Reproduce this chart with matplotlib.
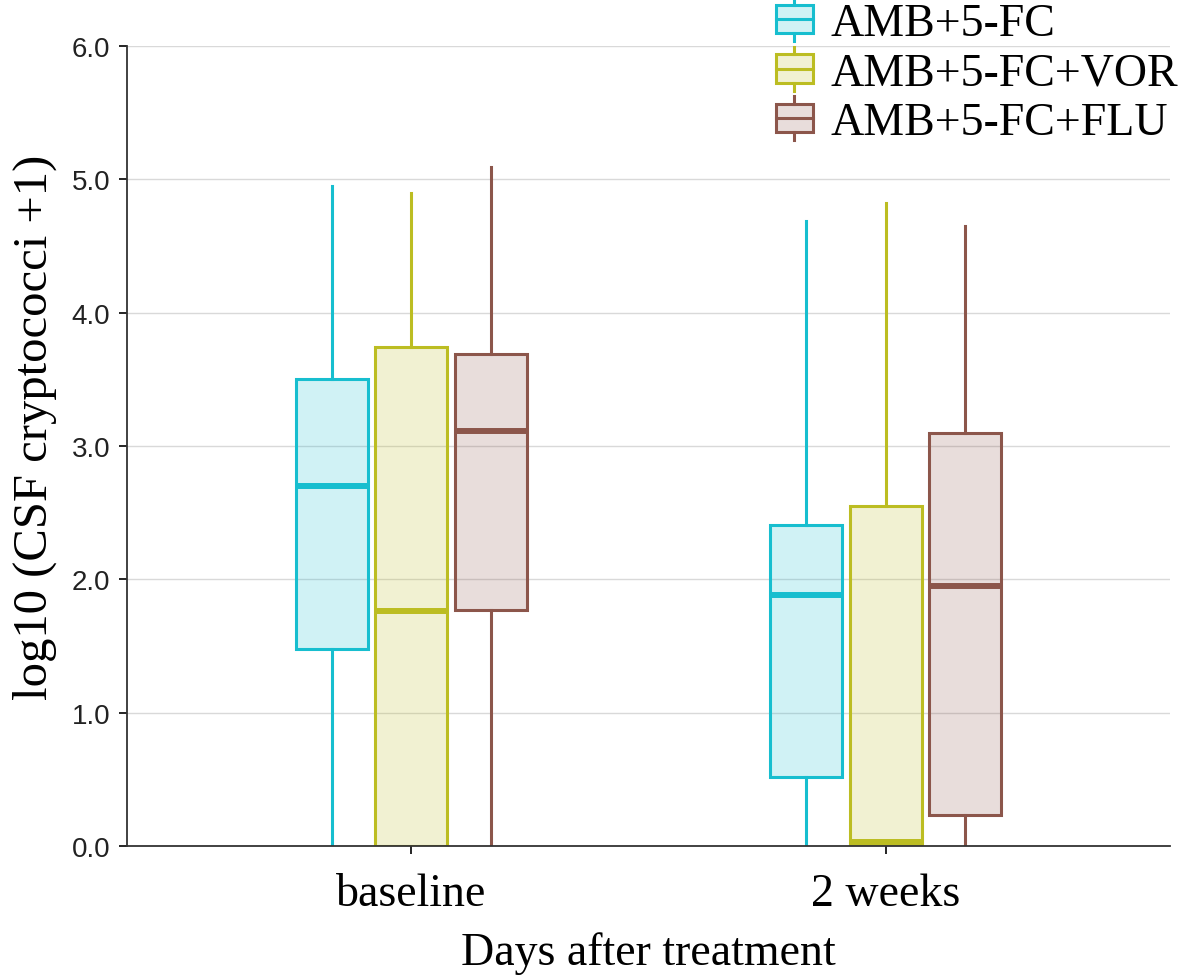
import matplotlib
matplotlib.use("Agg")
import matplotlib.pyplot as plt
import matplotlib.colors as mcolors
from matplotlib.legend_handler import HandlerBase
from matplotlib.patches import Rectangle
from matplotlib.lines import Line2D
import numpy as np

groups = ["baseline", "2 weeks"]
treatments = ["AMB+5-FC", "AMB+5-FC+VOR", "AMB+5-FC+FLU"]
colors = ["#17BECF", "#BCBD22", "#8C564B"]

# per treatment: values for [baseline, 2 weeks]
whislo = [[0.0, 0.0], [0.0, 0.0], [0.0, 0.0]]
q1 = [[1.48, 0.52], [0.0, 0.0], [1.77, 0.23]]
med = [[2.70, 1.88], [1.76, 0.03], [3.11, 1.95]]
q3 = [[3.50, 2.41], [3.74, 2.55], [3.69, 3.10]]
whishi = [[4.95, 4.69], [4.90, 4.82], [5.09, 4.65]]


class BoxHandler(HandlerBase):
    # small boxplot glyph for the legend
    def __init__(self, color):
        super().__init__()
        self.color = color

    def create_artists(self, legend, orig_handle, xdescent, ydescent,
                       width, height, fontsize, trans):
        x0 = -xdescent
        y0 = -ydescent
        c = self.color
        rect = Rectangle((x0, y0), width, height, facecolor=mcolors.to_rgba(c, 0.2),
                         edgecolor=c, lw=2.2, transform=trans)
        cx = x0 + width / 2
        mid = Line2D([x0, x0 + width], [y0 + height / 2] * 2, color=c, lw=2.2, transform=trans)
        top = Line2D([cx, cx], [y0 + height, y0 + height * 1.28], color=c, lw=2.2, transform=trans)
        bot = Line2D([cx, cx], [y0, y0 - height * 0.28], color=c, lw=2.2, transform=trans)
        return [rect, mid, top, bot]


fig = plt.figure(figsize=(11.8, 9.78), dpi=100)
ax = fig.add_axes([0.1076, 0.134, 0.884, 0.818])

x = np.arange(1, len(groups) + 1)
offsets = [-0.167, 0.0, 0.167]
width = 0.152

for i, t in enumerate(treatments):
    stats = []
    for g in range(len(groups)):
        stats.append(dict(whislo=whislo[i][g], q1=q1[i][g], med=med[i][g],
                          q3=q3[i][g], whishi=whishi[i][g], fliers=[]))
    c = colors[i]
    ax.bxp(stats, positions=x + offsets[i], widths=width, patch_artist=True,
           showcaps=False, showfliers=False, manage_ticks=False,
           boxprops=dict(facecolor=mcolors.to_rgba(c, 0.2), edgecolor=c, linewidth=2.2),
           medianprops=dict(color=c, linewidth=4.3, solid_capstyle="butt"),
           whiskerprops=dict(color=c, linewidth=2.2))

ax.set_xlim(0.4, 2.6)
ax.set_ylim(0, 6)
yt = np.arange(0, 6.1, 1.0)
ax.set_yticks(yt)
ax.set_yticklabels([f"{v:.1f}" for v in yt], fontfamily="Liberation Sans", fontsize=20, color="#222222")
ax.set_xticks(x)
ax.set_xticklabels(groups, fontfamily="Liberation Serif", fontsize=33)
ax.tick_params(axis="x", length=6, width=1.2, pad=13)
ax.tick_params(axis="y", length=6, width=1.2, pad=6)
ax.grid(axis="y", color="#d9d9d9", linewidth=1)
ax.set_axisbelow(True)
for s in ["top", "right"]:
    ax.spines[s].set_visible(False)
for s in ["left", "bottom"]:
    ax.spines[s].set_color("#333333")
    ax.spines[s].set_linewidth(1.3)

ax.set_xlabel("Days after treatment", fontfamily="Liberation Serif", fontsize=33, labelpad=12)
ax.set_ylabel("log10 (CSF cryptococci +1)", fontfamily="Liberation Serif", fontsize=35)
ax.yaxis.set_label_coords(-0.067, 0.525)

handles = [Rectangle((0, 0), 1, 1) for _ in treatments]
fig.legend(handles, treatments, handler_map={h: BoxHandler(c) for h, c in zip(handles, colors)},
           loc="upper right", bbox_to_anchor=(0.998, 0.996), frameon=False,
           prop=dict(family="Liberation Serif", size=33), handlelength=0.8,
           handleheight=0.57, handletextpad=0.38, labelspacing=0.15,
           borderpad=0.0, borderaxespad=0.0)

fig.savefig("out.png", dpi=100)
